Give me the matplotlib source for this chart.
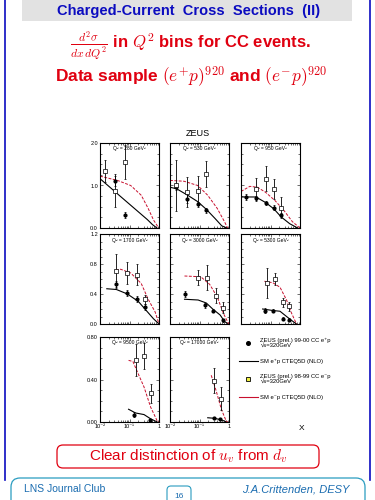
import matplotlib
matplotlib.use("Agg")
import matplotlib.pyplot as plt
from matplotlib.patches import FancyBboxPatch, Rectangle
from matplotlib.lines import Line2D
from matplotlib.ticker import FixedLocator, FixedFormatter, MultipleLocator, LogLocator, NullFormatter

plt.rcParams['font.family'] = ['Liberation Sans', 'DejaVu Sans']
plt.rcParams['mathtext.fontset'] = 'cm'

W, H = 375, 500

# Q^2 bins (GeV^2), one per panel
q2_bins = [280, 530, 950, 1700, 3000, 5300, 9500, 17000]

# ZEUS (prel.) 99-00 CC e+p  (filled circles)
ep_x = [[0.032, 0.068], [0.016, 0.039, 0.087, 0.17], [0.015, 0.032, 0.068, 0.13, 0.23],
        [0.036, 0.082, 0.18, 0.33], [0.032, 0.15, 0.28, 0.62], [0.066, 0.12, 0.26, 0.44],
        [0.14, 0.49], [0.30, 0.48]]
ep_y = [[1.10, 0.30], [0.97, 0.69, 0.56, 0.42], [0.73, 0.70, 0.59, 0.48, 0.30],
        [0.53, 0.42, 0.33, 0.23], [0.40, 0.25, 0.18, 0.05], [0.18, 0.18, 0.07, 0.06],
        [0.07, 0.02], [0.035, 0.03]]
ep_err = [[0.12, 0.07], [0.08, 0.10, 0.06, 0.06], [0.08, 0.06, 0.05, 0.05, 0.05],
          [0.05, 0.04, 0.04, 0.04], [0.04, 0.03, 0.02, 0.02], [0.03, 0.02, 0.02, 0.02],
          [0.02, 0.01], [0.01, 0.01]]

# ZEUS (prel.) 98-99 CC e-p  (open squares)
em_x = [[0.015, 0.032, 0.068], [0.016, 0.039, 0.087, 0.17], [0.032, 0.068, 0.13, 0.23],
        [0.036, 0.082, 0.18, 0.33], [0.09, 0.18, 0.35, 0.65], [0.074, 0.14, 0.26, 0.44],
        [0.16, 0.31, 0.52], [0.30, 0.52]]
em_y = [[1.35, 0.88, 1.55], [1.00, 0.84, 0.88, 1.27], [0.92, 1.16, 0.92, 0.48],
        [0.71, 0.68, 0.66, 0.33], [0.62, 0.62, 0.38, 0.22], [0.55, 0.60, 0.29, 0.24],
        [0.58, 0.62, 0.27], [0.39, 0.22]]
em_err = [[0.26, 0.38, 0.40], [0.60, 0.35, 0.35, 0.30], [0.25, 0.30, 0.23, 0.25],
          [0.22, 0.15, 0.14, 0.06], [0.10, 0.17, 0.10, 0.07], [0.20, 0.08, 0.06, 0.06],
          [0.15, 0.12, 0.09], [0.12, 0.11]]

# SM e+p CTEQ5D (NLO)
smp_x = [[0.01, 0.02, 0.05, 0.1, 0.2, 0.4, 0.6, 0.85],
         [0.01, 0.017, 0.04, 0.087, 0.17, 0.33, 0.57, 0.85],
         [0.01, 0.032, 0.068, 0.13, 0.23, 0.45, 0.83],
         [0.017, 0.036, 0.085, 0.2, 0.37, 0.65, 1.0],
         [0.031, 0.09, 0.17, 0.28, 0.5, 0.72, 0.98],
         [0.054, 0.12, 0.21, 0.35, 0.51, 0.76],
         [0.093, 0.16, 0.31, 0.52, 0.87],
         [0.19, 0.32, 0.55, 0.85]]
smp_y = [[1.16, 0.98, 0.74, 0.56, 0.38, 0.20, 0.08, 0.0],
         [0.96, 0.92, 0.77, 0.62, 0.44, 0.23, 0.05, 0.0],
         [0.73, 0.73, 0.60, 0.45, 0.26, 0.10, 0.0],
         [0.47, 0.46, 0.40, 0.30, 0.18, 0.07, 0.0],
         [0.33, 0.32, 0.28, 0.20, 0.12, 0.03, 0.0],
         [0.20, 0.18, 0.17, 0.10, 0.05, 0.0],
         [0.12, 0.085, 0.07, 0.03, 0.0],
         [0.04, 0.035, 0.02, 0.0]]

# SM e-p CTEQ5D (NLO)
smm_x = [[0.01, 0.039, 0.11, 0.25, 0.43, 0.65, 0.98],
         [0.01, 0.03, 0.087, 0.19, 0.4, 0.7, 0.9],
         [0.01, 0.02, 0.036, 0.068, 0.14, 0.28, 0.55, 1.0],
         [0.034, 0.05, 0.11, 0.25, 0.43, 0.74, 1.0],
         [0.031, 0.11, 0.22, 0.4, 0.65, 0.98],
         [0.062, 0.12, 0.21, 0.35, 0.51, 0.76],
         [0.093, 0.13, 0.2, 0.31, 0.52, 0.87, 1.0],
         [0.25, 0.37, 0.55, 0.8, 0.9]]
smm_y = [[1.22, 1.12, 1.00, 0.77, 0.46, 0.19, 0.0],
         [1.12, 1.10, 1.00, 0.77, 0.46, 0.15, 0.0],
         [0.86, 0.98, 0.96, 0.84, 0.65, 0.42, 0.15, 0.0],
         [0.72, 0.73, 0.68, 0.54, 0.33, 0.16, 0.0],
         [0.64, 0.63, 0.53, 0.36, 0.14, 0.0],
         [0.57, 0.55, 0.49, 0.32, 0.15, 0.0],
         [0.58, 0.57, 0.45, 0.33, 0.14, 0.01, 0.0],
         [0.44, 0.29, 0.12, 0.01, 0.0]]

# per row y axis
row_ymax = [2.0, 1.2, 0.8]
row_yticks = [[0.0, 1.0, 2.0], [0.0, 0.4, 0.8, 1.2], [0.0, 0.4, 0.8]]
row_ylabels = [["0.0", "1.0", "2.0"], ["0.0", "0.4", "0.8", "1.2"], ["0.00", "0.40", "0.80"]]
row_minor = [0.25, 0.1, 0.1]
x_ticks = [0.01, 0.1, 1.0]
x_labels = ["10⁻²", "10⁻¹", "1"]

RED = '#e00010'
BLUE = '#0c0cc0'
TEAL = '#2a9cc0'

fig = plt.figure(figsize=(W / 100, H / 100), dpi=100)
fig.patch.set_facecolor('white')

# slide decoration in pixel coordinates
bg = fig.add_axes([0, 0, 1, 1])
bg.set_xlim(0, W)
bg.set_ylim(H, 0)
bg.axis('off')
bg.add_patch(Rectangle((22, 0), 330, 21, facecolor='#e2e2e2', edgecolor='none'))
bg.plot([5, 5], [0, 480], color=BLUE, lw=1.2)
bg.plot([370, 370], [0, 480], color=BLUE, lw=1.2)
bg.text(189, 11, "Charged-Current  Cross  Sections  (II)", color=BLUE, fontsize=10.5,
        fontweight='bold', ha='center', va='center')
bg.text(191, 46, r"$\frac{d^2\sigma}{dx\,dQ^2}$ in $Q^2$ bins for CC events.", color=RED,
        fontsize=12, fontweight='bold', ha='center', va='center')
bg.text(191, 77, r"Data sample $(e^{+}p)^{920}$ and $(e^{-}p)^{920}$", color=RED,
        fontsize=12.5, fontweight='bold', ha='center', va='center')
bg.add_patch(FancyBboxPatch((57, 445), 262, 23, boxstyle="round,pad=0,rounding_size=6",
                            facecolor='white', edgecolor=RED, lw=0.9))
bg.text(188, 456.5, r"Clear distinction of $u_v$ from $d_v$", color=RED,
        fontsize=11, ha='center', va='center')
bg.add_patch(FancyBboxPatch((11, 478), 354, 40, boxstyle="round,pad=0,rounding_size=9",
                            facecolor='white', edgecolor=TEAL, lw=0.9))
bg.text(24, 489, "LNS Journal Club", color='#1a6cb0', fontsize=7.5, ha='left', va='center')
bg.text(349, 489, "J.A.Crittenden, DESY", color='#1a6cb0', fontsize=8, style='italic',
        ha='right', va='center')
bg.add_patch(FancyBboxPatch((167, 486), 24, 18, boxstyle="round,pad=0,rounding_size=4",
                            facecolor='white', edgecolor=TEAL, lw=0.8))
bg.text(179, 496, "16", color='#1a6cb0', fontsize=6, ha='center', va='center')

bg.text(198, 133, "ZEUS", fontsize=6.5, ha='center', va='center')
bg.text(302, 429, "X", fontsize=6, ha='center', va='center')

col_left = [100, 170, 241]
col_w = 59
row_top = [143, 234, 337]
row_h = [85, 90, 85]

for i, q2 in enumerate(q2_bins):
    r, c = divmod(i, 3)
    l, t, h = col_left[c], row_top[r], row_h[r]
    ax = fig.add_axes([l / W, 1 - (t + h) / H, col_w / W, h / H])
    ax.set_xscale('log')
    ax.set_xlim(0.01, 1.0)
    ax.set_ylim(0, row_ymax[r])

    ax.plot(smp_x[i], smp_y[i], color='black', lw=0.8)
    ax.plot(smm_x[i], smm_y[i], color='#c8102e', lw=0.7, ls=(0, (3, 1.5)))
    ax.errorbar(ep_x[i], ep_y[i], yerr=ep_err[i], fmt='o', ms=2.0, color='black',
                elinewidth=0.6, capsize=1.0, capthick=0.5)
    ax.errorbar(em_x[i], em_y[i], yerr=em_err[i], fmt='s', ms=2.2, color='black',
                mfc='white', mec='black', mew=0.5, elinewidth=0.6, capsize=1.0, capthick=0.5)

    ax.text(0.5, 0.93, f"Q² = {q2} GeV²", transform=ax.transAxes, fontsize=3.6,
            ha='center', va='center')

    ax.yaxis.set_major_locator(FixedLocator(row_yticks[r]))
    ax.yaxis.set_minor_locator(MultipleLocator(row_minor[r]))
    ax.xaxis.set_major_locator(FixedLocator(x_ticks))
    ax.xaxis.set_minor_locator(LogLocator(base=10, subs=range(2, 10)))
    ax.xaxis.set_minor_formatter(NullFormatter())
    if c == 0:
        ax.yaxis.set_major_formatter(FixedFormatter(row_ylabels[r]))
    else:
        ax.yaxis.set_major_formatter(NullFormatter())
    if r == 2:
        ax.xaxis.set_major_formatter(FixedFormatter(x_labels))
    else:
        ax.xaxis.set_major_formatter(NullFormatter())
    ax.tick_params(which='both', direction='in', top=True, right=True, width=0.4,
                   labelsize=4, pad=1.5)
    ax.tick_params(which='major', length=2.2)
    ax.tick_params(which='minor', length=1.1)
    for s in ax.spines.values():
        s.set_linewidth(0.8)

handles = [Line2D([], [], ls='none', marker='o', ms=2.6, color='black'),
           Line2D([], [], color='black', lw=0.8),
           Line2D([], [], ls='none', marker='s', ms=3, mfc='#f0f040', mec='black', mew=0.6),
           Line2D([], [], color='#c8102e', lw=0.8)]
labels = ["ZEUS (prel.) 99-00 CC e⁺p\n√s=320GeV",
          "SM e⁺p CTEQ5D (NLO)",
          "ZEUS (prel.) 98-99 CC e⁻p\n√s=320GeV",
          "SM e⁻p CTEQ5D (NLO)"]
fig.legend(handles, labels, loc='upper left', bbox_to_anchor=(236 / W, 1 - 335 / H),
           fontsize=4.2, frameon=False, handlelength=3.2, handletextpad=0.5,
           labelspacing=1.7, borderpad=0)

fig.savefig("out.png", dpi=100)
